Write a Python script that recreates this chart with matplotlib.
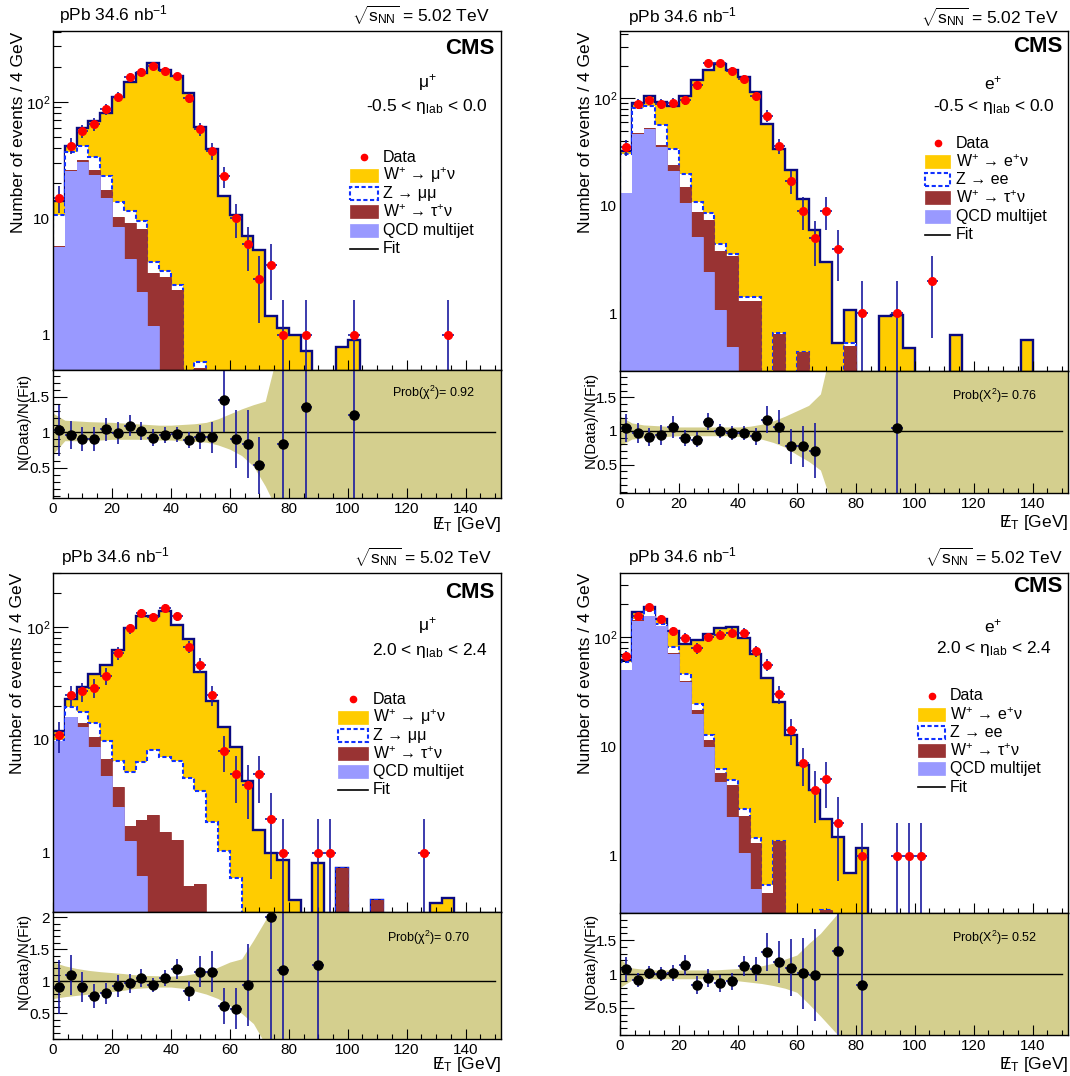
import numpy as np
import matplotlib
matplotlib.use('Agg')
import matplotlib.pyplot as plt
from matplotlib.patches import Rectangle
from matplotlib.lines import Line2D
from matplotlib.ticker import MultipleLocator, LogLocator, FuncFormatter, NullFormatter, FixedLocator

plt.rcParams['font.family'] = ['Liberation Sans', 'DejaVu Sans']
plt.rcParams['mathtext.fontset'] = 'custom'
plt.rcParams['mathtext.rm'] = 'Liberation Sans'
plt.rcParams['mathtext.it'] = 'Liberation Sans:italic'
plt.rcParams['mathtext.bf'] = 'Liberation Sans:bold'
plt.rcParams['mathtext.default'] = 'regular'

# ---------------- data ----------------
bin_edges = np.arange(0, 153, 4)          # 4 GeV bins, 0..152
bin_centers = 0.5 * (bin_edges[:-1] + bin_edges[1:])
x_ticks = [0, 20, 40, 60, 80, 100, 120, 140]

# Panel 1: mu+, -0.5 < eta < 0.0
mu_c_data = [15, 42, 56, 64, 86, 110, 163, 181, 202, 184, 165, 108, 58, 38, 23, 10, 6, 3, 4, 1,
             0, 1, 0, 0, 0, 1, 0, 0, 0, 0, 0, 0, 0, 1, 0, 0, 0, 0]
mu_c_qcd = [5.7, 25.7, 30.5, 23.5, 14.8, 8.5, 4.5, 2.35, 1.2, 0.5, 0.25, 0.12, 0.05, 0, 0, 0, 0, 0, 0, 0,
            0, 0, 0, 0, 0, 0, 0, 0, 0, 0, 0, 0, 0, 0, 0, 0, 0, 0]
mu_c_tau = [0.05, 0.3, 1.1, 2.5, 2.7, 1.8, 4.7, 5.7, 2.2, 2.66, 2.2, 0.15, 0.47, 0, 0, 0, 0, 0, 0, 0,
            0, 0, 0, 0, 0, 0, 0, 0, 0, 0, 0, 0, 0, 0, 0, 0, 0, 0]
mu_c_z = [5.0, 10.8, 10.4, 7.8, 5.7, 3.6, 2.4, 1.35, 0.83, 0.4, 0.25, 0.1, 0.07, 0, 0, 0, 0, 0, 0, 0,
          0, 0, 0, 0, 0, 0, 0, 0, 0, 0, 0, 0, 0, 0, 0, 0, 0, 0]
mu_c_w = [3.2, 5.2, 18, 35, 57, 96, 135, 166, 209, 185, 165, 118, 59.5, 39.5, 15.5, 10.7, 7.0, 5.4, 1.44, 1.14,
          0.99, 0.73, 0.3, 0.3, 0.78, 0.91, 0.2, 0.1, 0.1, 0.1, 0.1, 0.1, 0.1, 0.1, 0.1, 0.1, 0.1, 0.1]
mu_c_ratio = [1.03, 0.96, 0.905, 0.905, 1.04, 0.99, 1.095, 1.02, 0.92, 0.96, 0.97, 0.89, 0.93, 0.93, 1.45, 0.905,
              0.83, 0.53, None, 0.83, None, 1.36, None, None, None, 1.25, None, None, None, None, None, None,
              None, None, None, None, None, None]
mu_c_ratio_err = [0.36, 0.2, 0.17, 0.17, 0.16, 0.15, 0.15, 0.13, 0.12, 0.11, 0.11, 0.12, 0.17, 0.22, 0.45, 0.41,
                  0.48, 0.4, None, 1.2, None, 1.4, None, None, None, 1.3, None, None, None, None, None, None,
                  None, None, None, None, None, None]
mu_c_band_hi = [1.27, 1.17, 1.16, 1.15, 1.145, 1.14, 1.13, 1.12, 1.11, 1.1, 1.1, 1.11, 1.12, 1.14, 1.19, 1.26,
                1.33, 1.39, 1.44, 2.1, 3, 3, 3, 3, 3, 3, 3, 3, 3, 3, 3, 3, 3, 3, 3, 3, 3, 3, 3]
mu_c_band_lo = [0.69, 0.88, 0.88, 0.89, 0.89, 0.9, 0.9, 0.9, 0.9, 0.89, 0.89, 0.88, 0.87, 0.86, 0.82, 0.76,
                0.67, 0.52, 0.24, -0.1, -1, -1, -1, -1, -1, -1, -1, -1, -1, -1, -1, -1, -1, -1, -1, -1, -1, -1, -1]

# Panel 2: e+, -0.5 < eta < 0.0
e_c_data = [35, 89, 96, 89, 91, 96, 132, 212, 212, 181, 152, 105, 69, 36, 17, 9, 5, 9, 4, 0,
            1, 0, 0, 1, 0, 0, 2, 0, 0, 0, 0, 0, 0, 0, 0, 0, 0, 0]
e_c_qcd = [13.1, 46.6, 52.2, 35.5, 21.2, 10.7, 5.1, 2.4, 1.07, 0.49, 0.2, 0.1, 0.05, 0, 0, 0, 0, 0, 0, 0,
           0, 0, 0, 0, 0, 0, 0, 0, 0, 0, 0, 0, 0, 0, 0, 0, 0, 0]
e_c_tau = [0.05, 0.7, 1.1, 1.3, 2.8, 4.4, 3.7, 5.0, 2.7, 2.9, 1.1, 1.2, 0, 0.64, 0, 0.44, 0, 0, 0, 0.5,
           0, 0, 0, 0, 0, 0, 0, 0, 0, 0, 0, 0, 0, 0, 0, 0, 0, 0]
e_c_z = [17.2, 33.4, 31.7, 19.7, 9.5, 4.7, 2.1, 1.2, 0.6, 0.16, 0.12, 0.12, 0, 0.02, 0, 0, 0, 0, 0, 0.03,
         0, 0, 0, 0, 0, 0, 0, 0, 0, 0, 0, 0, 0, 0, 0, 0, 0, 0]
e_c_w = [2.3, 10.3, 19, 35.5, 51.5, 85, 137, 174, 204, 179, 157, 112, 57.6, 33, 21.6, 11, 5.9, 3.0, 0.53, 0.55,
         0.15, 0.15, 0.94, 0.96, 0.47, 0.1, 0.1, 0.1, 0.63, 0, 0, 0, 0, 0, 0.56, 0, 0, 0]
e_c_ratio = [1.04, 0.97, 0.91, 0.94, 1.06, 0.9, 0.87, 1.14, 1.0, 0.97, 0.97, 0.92, 1.17, 1.06, 0.77, 0.77,
             0.71, None, None, None, None, None, None, 1.04, None, None, None, None, None, None, None, None,
             None, None, None, None, None, None]
e_c_ratio_err = [0.21, 0.15, 0.14, 0.15, 0.16, 0.12, 0.11, 0.12, 0.1, 0.1, 0.11, 0.13, 0.2, 0.25, 0.26, 0.3,
                 0.41, None, None, None, None, None, None, 1.2, None, None, None, None, None, None, None, None,
                 None, None, None, None, None, None]
e_c_band_hi = [1.22, 1.12, 1.09, 1.08, 1.07, 1.06, 1.06, 1.06, 1.06, 1.06, 1.06, 1.07, 1.1, 1.15, 1.22, 1.3,
               1.38, 1.55, 2.3, 3, 3, 3, 3, 3, 3, 3, 3, 3, 3, 3, 3, 3, 3, 3, 3, 3, 3, 3, 3]
e_c_band_lo = [0.78, 0.88, 0.9, 0.91, 0.92, 0.93, 0.93, 0.93, 0.93, 0.93, 0.92, 0.91, 0.88, 0.83, 0.76, 0.65,
               0.55, 0.42, -0.1, -1, -1, -1, -1, -1, -1, -1, -1, -1, -1, -1, -1, -1, -1, -1, -1, -1, -1, -1, -1]

# Panel 3: mu+, 2.0 < eta < 2.4
mu_f_data = [11, 25, 27, 29, 37, 59, 97, 133, 122, 147, 124, 67, 46, 25, 8, 5, 4, 5, 2, 1,
             0, 0, 1, 1, 0, 0, 0, 0, 0, 0, 0, 1, 0, 0, 0, 0, 0, 0]
mu_f_qcd = [9.7, 15.85, 13.1, 8.6, 4.8, 2.55, 1.28, 0.62, 0.2, 0.1, 0.05, 0, 0, 0, 0, 0, 0, 0, 0, 0,
            0, 0, 0, 0, 0, 0, 0, 0, 0, 0, 0, 0, 0, 0, 0, 0, 0, 0]
mu_f_tau = [0, 0, 0.9, 2.0, 1.95, 1.27, 0.46, 1.32, 1.98, 1.42, 1.24, 0.51, 0.53, 0, 0, 0, 0, 0, 0, 0,
            0, 0, 0, 0, 0.74, 0, 0, 0.38, 0, 0, 0, 0, 0, 0, 0, 0, 0, 0]
mu_f_z = [0.3, 3.85, 3.8, 3.6, 3.1, 2.7, 3.5, 4.5, 5.9, 5.6, 5.2, 4.1, 3.0, 1.87, 1.03, 0.6, 0.2, 0, 0, 0,
          0, 0, 0, 0, 0, 0, 0, 0, 0, 0, 0, 0, 0, 0, 0, 0, 0, 0]
mu_f_w = [2.1, 3.3, 11.7, 23.8, 36, 56.5, 93.3, 117.6, 116, 131, 96.5, 73.1, 36.5, 20.2, 11.9, 8.1, 4.1, 1.58, 1.0, 0.86,
          0.38, 0.1, 0.82, 0.1, 0, 0.05, 0.05, 0, 0.05, 0.05, 0.05, 0.05, 0.36, 0.4, 0, 0, 0, 0]
mu_f_ratio = [0.91, 1.1, 0.91, 0.77, 0.81, 0.92, 0.97, 1.05, 0.94, 1.05, 1.19, 0.85, 1.15, 1.15, 0.61, 0.57,
              0.94, None, 2.0, 1.18, None, None, 1.25, None, None, None, None, None, None, None, None, None,
              None, None, None, None, None, None]
mu_f_ratio_err = [0.42, 0.31, 0.24, 0.18, 0.17, 0.17, 0.15, 0.14, 0.11, 0.12, 0.16, 0.15, 0.24, 0.32, 0.28, 0.32,
                  0.64, None, 2.0, 1.2, None, None, 1.3, None, None, None, None, None, None, None, None, None,
                  None, None, None, None, None, None]
mu_f_band_hi = [1.3, 1.24, 1.2, 1.17, 1.15, 1.135, 1.12, 1.1, 1.09, 1.085, 1.08, 1.09, 1.12, 1.15, 1.22, 1.3,
                1.35, 1.64, 1.95, 2.3, 3, 3, 3, 3, 3, 3, 3, 3, 3, 3, 3, 3, 3, 3, 3, 3, 3, 3, 3]
mu_f_band_lo = [0.73, 0.76, 0.78, 0.8, 0.82, 0.84, 0.86, 0.89, 0.9, 0.91, 0.91, 0.89, 0.85, 0.8, 0.73, 0.62,
                0.5, 0.34, 0.02, -1, -1, -1, -1, -1, -1, -1, -1, -1, -1, -1, -1, -1, -1, -1, -1, -1, -1, -1, -1]

# Panel 4: e+, 2.0 < eta < 2.4
e_f_data = [67, 155, 188, 146, 113, 99, 79, 100, 105, 110, 110, 75, 56, 30, 14, 7, 4, 5, 2, 0,
            1, 0, 0, 1, 1, 1, 0, 0, 0, 0, 0, 0, 0, 0, 0, 0, 0, 0]
e_f_qcd = [49.5, 140, 155, 125, 70.3, 38.7, 19.8, 9.8, 4.7, 2.24, 1.05, 0.5, 0.2, 0.05, 0, 0, 0, 0, 0, 0,
           0, 0, 0, 0, 0, 0, 0, 0, 0, 0, 0, 0, 0, 0, 0, 0, 0, 0]
e_f_tau = [0.5, 2, 2, 1.5, 1.5, 1.3, 1.9, 1.7, 0.98, 2.23, 1.27, 0.82, 0.26, 1.32, 0, 0, 0, 0.32, 0, 0,
           0, 0, 0, 0, 0, 0, 0, 0, 0, 0, 0, 0, 0, 0, 0, 0, 0, 0]
e_f_z = [9, 5, 16, 6, 9.2, 6.2, 2.8, 1.2, 0.5, 0.46, 0.35, 0.13, 0.08, 0, 0, 0, 0, 0, 0, 0,
         0, 0, 0, 0, 0, 0, 0, 0, 0, 0, 0, 0, 0, 0, 0, 0, 0, 0]
e_f_w = [3, 22, 15, 15, 32, 40.7, 70, 94.3, 115, 118.7, 96, 68, 41.9, 24.1, 12.7, 6.8, 4.0, 1.85, 1.5, 0.69,
         1.19, 0.05, 0.05, 0.05, 0.05, 0.05, 0.05, 0.05, 0.05, 0.05, 0.05, 0.05, 0.05, 0.05, 0.05, 0.05, 0.05, 0.05]
e_f_ratio = [1.07, 0.91, 1.02, 1.0, 1.02, 1.13, 0.84, 0.94, 0.86, 0.89, 1.12, 1.07, 1.32, 1.17, 1.09, 1.01,
             0.98, None, 1.34, None, 0.84, None, None, None, None, None, None, None, None, None, None, None,
             None, None, None, None, None, None]
e_f_ratio_err = [0.18, 0.1, 0.1, 0.11, 0.12, 0.15, 0.13, 0.13, 0.12, 0.12, 0.15, 0.18, 0.28, 0.31, 0.42, 0.52,
                 0.68, None, 1.3, None, 1.2, None, None, None, None, None, None, None, None, None, None, None,
                 None, None, None, None, None, None]
e_f_band_hi = [1.22, 1.09, 1.07, 1.06, 1.06, 1.06, 1.06, 1.06, 1.06, 1.07, 1.08, 1.1, 1.12, 1.16, 1.22, 1.28,
               1.45, 1.6, 1.8, 2.0, 3, 3, 3, 3, 3, 3, 3, 3, 3, 3, 3, 3, 3, 3, 3, 3, 3, 3, 3]
e_f_band_lo = [0.8, 0.91, 0.93, 0.93, 0.93, 0.93, 0.93, 0.93, 0.92, 0.91, 0.9, 0.88, 0.86, 0.83, 0.79, 0.73,
               0.56, 0.38, 0.19, 0.0, -1, -1, -1, -1, -1, -1, -1, -1, -1, -1, -1, -1, -1, -1, -1, -1, -1, -1, -1]

prob_values = ['0.92', '0.76', '0.70', '0.52']

# ---------------- style ----------------
YEL = '#ffcc00'
NAVY = '#0a0a80'
ZBLUE = '#1030ff'
BROWN = '#993333'
QCDC = '#9999ff'
RED = '#ff0000'
ERRC = '#1a1aa0'
BAND = '#d4cf8e'

W, H = 1070, 1076
fig = plt.figure(figsize=(W / 100, H / 100), dpi=100)


def fx(px):
    return px / W


def fy(py):
    return 1 - py / H


panels = [
    dict(data=mu_c_data, qcd=mu_c_qcd, tau=mu_c_tau, z=mu_c_z, w=mu_c_w,
         ratio=mu_c_ratio, rerr=mu_c_ratio_err, bhi=mu_c_band_hi, blo=mu_c_band_lo,
         box=(53, 501, 31, 370, 498), ylim=(0.5, 404), rylim=(0.07, 1.88), rticks=[0.5, 1, 1.5],
         lep='μ', lepname='μ$^{+}$', eta='-0.5 < η$_{\\mathrm{lab}}$ < 0.0', chi='χ',
         leg=(350, 378, 383, 157, 18.3), ann=(427, 83, 427, 106), top_y=15, top_l=59, top_r=490,
         cms=(495, 48), ylab=(19, 32), rylab=(24, 373), xlab=(501, 525), prob=(392, 393)),
    dict(data=e_c_data, qcd=e_c_qcd, tau=e_c_tau, z=e_c_z, w=e_c_w,
         ratio=e_c_ratio, rerr=e_c_ratio_err, bhi=e_c_band_hi, blo=e_c_band_lo,
         box=(620, 1068, 31, 371, 493), ylim=(0.29, 423), rylim=(0.08, 1.89), rticks=[0.5, 1, 1.5],
         lep='e', lepname='e$^{+}$', eta='-0.5 < η$_{\\mathrm{lab}}$ < 0.0', chi='X',
         leg=(925, 950, 956, 143, 18.3), ann=(993, 83, 994, 106), top_y=17, top_l=628, top_r=1059,
         cms=(1062, 46), ylab=(585, 32), rylab=(591, 372), xlab=(1068, 522), prob=(952, 396)),
    dict(data=mu_f_data, qcd=mu_f_qcd, tau=mu_f_tau, z=mu_f_z, w=mu_f_w,
         ratio=mu_f_ratio, rerr=mu_f_ratio_err, bhi=mu_f_band_hi, blo=mu_f_band_lo,
         box=(53, 501, 573, 912, 1039), ylim=(0.3, 300), rylim=(0.1, 2.08), rticks=[0.5, 1, 1.5, 2],
         lep='μ', lepname='μ$^{+}$', eta='2.0 < η$_{\\mathrm{lab}}$ < 2.4', chi='χ',
         leg=(338, 368, 373, 699, 18.2), ann=(427, 625, 430, 650), top_y=557, top_l=61, top_r=492,
         cms=(495, 592), ylab=(18, 573), rylab=(24, 913), xlab=(501, 1065), prob=(387, 938)),
    dict(data=e_f_data, qcd=e_f_qcd, tau=e_f_tau, z=e_f_z, w=e_f_w,
         ratio=e_f_ratio, rerr=e_f_ratio_err, bhi=e_f_band_hi, blo=e_f_band_lo,
         box=(620, 1068, 573, 913, 1035), ylim=(0.3, 385), rylim=(0.1, 1.9), rticks=[0.5, 1, 1.5],
         lep='e', lepname='e$^{+}$', eta='2.0 < η$_{\\mathrm{lab}}$ < 2.4', chi='X',
         leg=(918, 945, 950, 696, 18.2), ann=(993, 626, 994, 648), top_y=557, top_l=628, top_r=1063,
         cms=(1062, 587), ylab=(585, 573), rylab=(591, 913), xlab=(1068, 1064), prob=(952, 938)),
]


def log_fmt(v, pos):
    if abs(v - 1) < 1e-6:
        return '1'
    if abs(v - 10) < 1e-5:
        return '10'
    if abs(v - 100) < 1e-4:
        return '$10^{2}$'
    return ''


def draw(p, prob):
    x0, x1, yt, ym, yb = p['box']
    axm = fig.add_axes([fx(x0), fy(ym), (x1 - x0) / W, (ym - yt) / H])
    axr = fig.add_axes([fx(x0), fy(yb), (x1 - x0) / W, (yb - ym) / H])

    qcd = np.array(p['qcd'], float)
    tau = np.array(p['tau'], float)
    zz = np.array(p['z'], float)
    ww = np.array(p['w'], float)
    c1 = qcd
    c2 = c1 + tau
    c3 = c2 + zz
    c4 = c3 + ww
    floor = 1e-4
    layers = [(c4, YEL, NAVY, '-', 1.7),
              (c3, 'white', ZBLUE, (0, (2.0, 1.2)), 1.5),
              (c2, BROWN, BROWN, '-', 0.6),
              (c1, QCDC, QCDC, '-', 0.6)]
    for k, (vals, fc, ec, ls, lw) in enumerate(layers):
        v = np.maximum(vals, floor)
        axm.stairs(v, bin_edges, baseline=floor, fill=True, color=fc, zorder=1 + k)
        axm.stairs(v, bin_edges, baseline=floor, fill=False, color=ec, linewidth=lw,
                   linestyle=ls, zorder=1.5 + k)

    d = np.array(p['data'], float)
    m = d > 0
    err = np.sqrt(d)
    lo = np.minimum(err, d - 1e-3)
    axm.errorbar(bin_centers[m], d[m], yerr=[lo[m], err[m]], xerr=2, fmt='o', color=RED,
                 mec=RED, ms=5.5, ecolor=ERRC, elinewidth=1.2, capsize=0, zorder=10)

    axm.set_yscale('log')
    axm.set_xlim(bin_edges[0], bin_edges[-1])
    axm.set_ylim(*p['ylim'])
    axm.yaxis.set_major_locator(FixedLocator([1, 10, 100]))
    axm.yaxis.set_major_formatter(FuncFormatter(log_fmt))
    axm.yaxis.set_minor_locator(LogLocator(base=10, subs=np.arange(2, 10), numticks=20))
    axm.yaxis.set_minor_formatter(NullFormatter())
    axm.xaxis.set_major_locator(MultipleLocator(20))
    axm.xaxis.set_minor_locator(MultipleLocator(5))
    axm.tick_params(which='both', direction='in', left=True, right=False, top=False, bottom=True,
                    labelbottom=False, labelsize=11, width=0.8, color='k')
    axm.tick_params(axis='y', which='major', length=11, pad=2)
    axm.tick_params(axis='y', which='minor', length=6)
    axm.tick_params(axis='x', which='major', length=7)
    axm.tick_params(axis='x', which='minor', length=3.5)
    for s in axm.spines.values():
        s.set_linewidth(1.0)
        s.set_zorder(20)

    # ratio panel
    axr.fill_between(bin_edges, np.array(p['blo'], float), np.array(p['bhi'], float),
                     color=BAND, lw=0, zorder=1)
    axr.plot([bin_centers[0], bin_centers[-1]], [1, 1], color='k', lw=1.0, zorder=2)
    r = np.array(p['ratio'], float)
    re = np.array(p['rerr'], float)
    mr = ~np.isnan(r)
    axr.errorbar(bin_centers[mr], r[mr], yerr=re[mr], xerr=2, fmt='o', color='k', ms=6.5,
                 ecolor=ERRC, elinewidth=1.2, capsize=0, zorder=5)
    axr.set_xlim(bin_edges[0], bin_edges[-1])
    axr.set_ylim(*p['rylim'])
    axr.yaxis.set_major_locator(FixedLocator(p['rticks']))
    axr.yaxis.set_minor_locator(MultipleLocator(0.1))
    axr.yaxis.set_major_formatter(FuncFormatter(lambda v, pos: f'{v:g}'))
    axr.xaxis.set_major_locator(FixedLocator(x_ticks))
    axr.xaxis.set_minor_locator(MultipleLocator(5))
    axr.tick_params(which='both', direction='in', left=True, right=False, top=False, bottom=True,
                    labelsize=11, width=0.8, color='k')
    axr.tick_params(axis='y', which='major', length=10, pad=2)
    axr.tick_params(axis='y', which='minor', length=5)
    axr.tick_params(axis='x', which='major', length=7, pad=3)
    axr.tick_params(axis='x', which='minor', length=3.5)
    for s in axr.spines.values():
        s.set_linewidth(1.0)
        s.set_zorder(20)
    axr.text(fx(p['prob'][0]), fy(p['prob'][1]), 'Prob(' + p['chi'] + '$^{2}$)= ' + prob,
             transform=fig.transFigure, fontsize=9, ha='left', va='center')

    # texts
    fig.text(fx(p['top_l']), fy(p['top_y']), 'pPb 34.6 nb$^{-1}$', fontsize=12.5, ha='left', va='center')
    fig.text(fx(p['top_r']), fy(p['top_y']), '$\\sqrt{s_{\\mathrm{NN}}}$ = 5.02 TeV', fontsize=12.5,
             ha='right', va='center')
    fig.text(fx(p['cms'][0]), fy(p['cms'][1]), 'CMS', fontsize=16, fontweight='bold', ha='right', va='center')
    ax_, ay_, bx_, by_ = p['ann']
    fig.text(fx(ax_), fy(ay_), p['lepname'], fontsize=12.5, ha='center', va='center')
    fig.text(fx(bx_), fy(by_), p['eta'], fontsize=12.5, ha='center', va='center')
    fig.text(fx(p['ylab'][0]), fy(p['ylab'][1]), 'Number of events / 4 GeV', rotation=90,
             fontsize=12.5, ha='center', va='top')
    fig.text(fx(p['rylab'][0]), fy(p['rylab'][1]), 'N(Data)/N(Fit)', rotation=90,
             fontsize=11, ha='center', va='top')
    fig.text(fx(p['xlab'][0]), fy(p['xlab'][1]), '$/\\!\\!\\!\\!\\mathrm{E}_{\\mathrm{T}}$ [GeV]',
             fontsize=12.5, ha='right', va='center')

    # legend (manual, ROOT style)
    hx0, hx1, tx, y0, dy = p['leg']
    lep = p['lep']
    entries = [('data', 'Data'),
               ('w', 'W$^{+}$ → ' + lep + '$^{+}$ν'),
               ('z', 'Z → ' + lep + lep),
               ('tau', 'W$^{+}$ → τ$^{+}$ν'),
               ('qcd', 'QCD multijet'),
               ('fit', 'Fit')]
    for i, (kind, label) in enumerate(entries):
        yy = y0 + i * dy
        if kind == 'data':
            fig.add_artist(Line2D([fx((hx0 + hx1) / 2)], [fy(yy)], marker='o', color=RED, ms=4.5,
                                  linestyle='none', transform=fig.transFigure))
        elif kind == 'fit':
            fig.add_artist(Line2D([fx(hx0), fx(hx1)], [fy(yy), fy(yy)], color='k', lw=1.2,
                                  transform=fig.transFigure))
        else:
            fc = {'w': YEL, 'z': 'white', 'tau': BROWN, 'qcd': QCDC}[kind]
            ec = ZBLUE if kind == 'z' else fc
            ls = (0, (2.0, 1.2)) if kind == 'z' else '-'
            lw = 1.5 if kind == 'z' else 0.5
            fig.add_artist(Rectangle((fx(hx0), fy(yy + 6.5)), (hx1 - hx0) / W, 13 / H,
                                     facecolor=fc, edgecolor=ec, linestyle=ls, linewidth=lw,
                                     transform=fig.transFigure))
        fig.text(fx(tx), fy(yy), label, fontsize=11.5, ha='left', va='center')


for p, prob in zip(panels, prob_values):
    draw(p, prob)

fig.savefig('out.png', dpi=100)
